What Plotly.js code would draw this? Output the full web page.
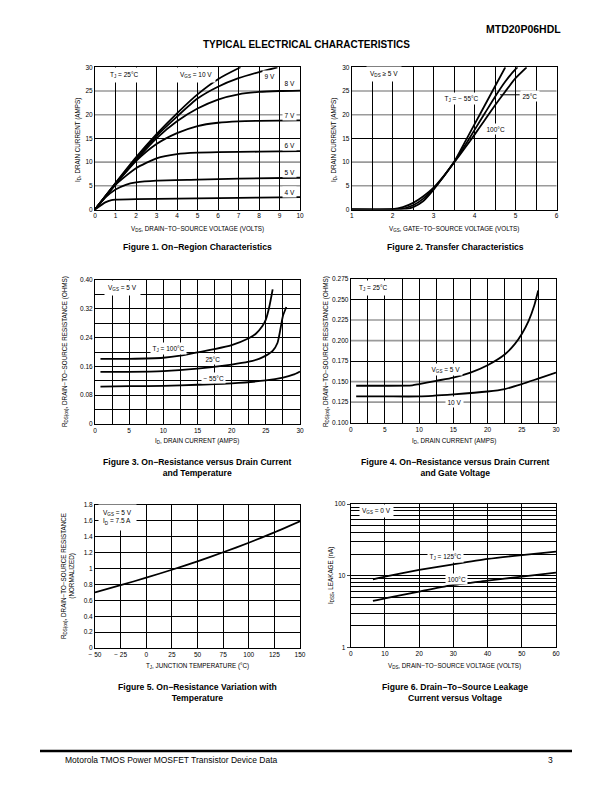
<!DOCTYPE html>
<html><head><meta charset="utf-8">
<script src="https://cdn.plot.ly/plotly-3.0.1.min.js"></script>
<style>html,body{margin:0;padding:0;background:#fff}#g{width:612px;height:792px}</style>
</head><body><div id="g"></div>
<script>
// ---------- Figure 1: On-Region Characteristics (VDS vs ID) ----------
const f1_vgs10_x = [0,1,2,3,4,5,6,7,7.1];
const f1_vgs10_y = [0,5.6,11.0,15.9,20.3,24.3,27.5,29.8,30];
const f1_vgs9_x = [0,1,2,3,4,5,6,7,8,8.9];
const f1_vgs9_y = [0,5.5,10.7,15.5,19.6,23.4,25.9,27.7,29.0,30];
const f1_vgs8_x = [0,1,2,3,4,5,6,7,8,9,10];
const f1_vgs8_y = [0,5.4,10.4,15.0,18.6,21.3,23.2,24.3,24.8,25.0,25.1];
const f1_vgs7_x = [0,1,2,3,4,5,6,7,8,10];
const f1_vgs7_y = [0,5.3,10.2,13.8,16.1,17.6,18.3,18.6,18.7,18.8];
const f1_vgs6_x = [0,1,2,3,4,5,6,8,10];
const f1_vgs6_y = [0,5.2,8.7,10.8,11.7,12.0,12.1,12.2,12.3];
const f1_vgs5_x = [0,0.5,1,1.5,2,3,5,7,10];
const f1_vgs5_y = [0,2.5,4.2,5.2,5.7,6.1,6.3,6.5,6.7];
const f1_vgs4_x = [0,0.5,0.8,1,2,4,6,8,10];
const f1_vgs4_y = [0,1.5,2.0,2.1,2.2,2.3,2.4,2.5,2.6];

// ---------- Figure 2: Transfer Characteristics (VGS vs ID) ----------
const f2_m55_x = [1,2,2.3,2.5,2.75,3,3.25,3.5,3.75,4,4.25,4.5,4.75];
const f2_m55_y = [0,0,0.05,0.5,1.8,4.2,7.0,10.0,14.0,18.0,22.0,26.0,30.0];
const f2_25_x = [1,2,2.2,2.5,2.75,3,3.25,3.5,3.75,4,4.25,4.5,4.75,5,5.05];
const f2_25_y = [0,0,0.1,0.9,2.3,4.4,7.0,10.0,13.3,16.8,20.3,23.8,27.0,29.6,30];
const f2_100_x = [1,2,2.25,2.5,2.75,3,3.25,3.5,3.75,4,4.25,4.5,4.75,5,5.27];
const f2_100_y = [0,0.05,0.5,1.4,2.8,4.6,7.1,9.9,12.8,15.8,18.9,22.0,24.9,27.7,30];

// ---------- Figure 3: RDS(on) vs ID and Temperature ----------
const f3_100_x = [0.8,5,10,12.5,15,17.5,20,22.5,23.5,24.5,25,25.5,26];
const f3_100_y = [0.181,0.181,0.184,0.190,0.199,0.208,0.219,0.238,0.250,0.272,0.290,0.325,0.374];
const f3_25_x = [0.8,5,10,15,20,22.5,24,25,26,26.7,27.1,27.5,28];
const f3_25_y = [0.145,0.145,0.147,0.154,0.165,0.173,0.181,0.190,0.203,0.225,0.260,0.300,0.325];
const f3_m55_x = [0.8,5,10,15,20,25,27.5,29,30];
const f3_m55_y = [0.104,0.105,0.106,0.109,0.113,0.121,0.129,0.137,0.146];

// ---------- Figure 4: RDS(on) vs ID and Gate Voltage ----------
const f4_5v_x = [0.8,5,9,10,12.5,15,17.5,20,22.5,24,25,26,26.8,27.4];
const f4_5v_y = [0.145,0.145,0.1455,0.147,0.151,0.155,0.161,0.170,0.183,0.196,0.208,0.224,0.242,0.261];
const f4_10v_x = [0.8,5,10,15,20,22.5,25,27.5,30];
const f4_10v_y = [0.132,0.132,0.132,0.1345,0.138,0.141,0.147,0.154,0.161];

// ---------- Figure 5: RDS(on) normalized vs TJ ----------
const f5_tj = [-50,-25,0,25,50,75,100,125,150];
const f5_r = [0.70,0.79,0.885,0.985,1.09,1.205,1.325,1.455,1.595];

// ---------- Figure 6: IDSS leakage vs VDS ----------
const f6_125_x = [6.5,10,20,30,40,50,60];
const f6_125_y = [8.9,9.7,12.0,14.4,17.1,19.4,21.6];
const f6_100_x = [6.5,10,20,30,40,50,60];
const f6_100_y = [4.43,4.83,5.98,7.41,8.5,9.7,11.0];

// tick labels / grid positions
const f3_tickvals = [0,0.08,0.16,0.24,0.32,0.40];
const f3_ticktext = ["0","0.08","0.16","0.24","0.32","0.40"];
const f5_xtickvals = [-50,-25,0,25,50,75,100,125,150];
const f5_xticktext = ["\u2212 50","\u2212 25","0","25","50","75","100","125","150"];
const f5_ytickvals = [0,0.2,0.4,0.6,0.8,1,1.2,1.4,1.6,1.8];
const f5_yticktext = ["0","0.2","0.4","0.6","0.8","1","1.2","1.4","1.6","1.8"];
const f6_minor = [2,3,4,5,6,7,8,9,20,30,40,50,60,70,80,90];
const f12_darkgrid = [15];
const f12_lightgrid = [5, 10, 20, 25];
const f4_darkgrid = [0.175, 0.25];
const f4_lightgrid = [0.125, 0.15, 0.2, 0.225];

// ---------- helpers ----------
const W = 612, H = 792;
const PX = v => v / W;
const PY = v => 1 - v / H;
const FONT = '"Liberation Sans", Arial, Helvetica, sans-serif';
const LW = 1.8;

function line(x, y, xa, ya) {
  return {x: x, y: y, xaxis: xa, yaxis: ya, type: 'scatter', mode: 'lines',
          line: {color: '#000', width: LW, shape: 'spline', smoothing: 0.6},
          hoverinfo: 'skip', showlegend: false};
}

const data = [
  line(f1_vgs10_x, f1_vgs10_y, 'x', 'y'),
  line(f1_vgs9_x, f1_vgs9_y, 'x', 'y'),
  line(f1_vgs8_x, f1_vgs8_y, 'x', 'y'),
  line(f1_vgs7_x, f1_vgs7_y, 'x', 'y'),
  line(f1_vgs6_x, f1_vgs6_y, 'x', 'y'),
  line(f1_vgs5_x, f1_vgs5_y, 'x', 'y'),
  line(f1_vgs4_x, f1_vgs4_y, 'x', 'y'),
  line(f2_m55_x, f2_m55_y, 'x2', 'y2'),
  line(f2_25_x, f2_25_y, 'x2', 'y2'),
  line(f2_100_x, f2_100_y, 'x2', 'y2'),
  line(f3_100_x, f3_100_y, 'x3', 'y3'),
  line(f3_25_x, f3_25_y, 'x3', 'y3'),
  line(f3_m55_x, f3_m55_y, 'x3', 'y3'),
  line(f4_5v_x, f4_5v_y, 'x4', 'y4'),
  line(f4_10v_x, f4_10v_y, 'x4', 'y4'),
  line(f5_tj, f5_r, 'x5', 'y5'),
  line(f6_125_x, f6_125_y, 'x6', 'y6'),
  line(f6_100_x, f6_100_y, 'x6', 'y6')
];

const GRID = {showgrid: true, gridcolor: '#000', gridwidth: 1};
function ax(extra) {
  return Object.assign({
    showline: true, mirror: true, linecolor: '#000', linewidth: 1,
    showgrid: true, gridcolor: '#000', gridwidth: 1, zeroline: false,
    ticks: '', tickfont: {family: FONT, size: 6.5, color: '#000'},
    fixedrange: true
  }, extra);
}

const layout = {
  width: W, height: H, margin: {l: 0, r: 0, t: 0, b: 0},
  paper_bgcolor: '#fff', plot_bgcolor: 'rgba(0,0,0,0)', showlegend: false,
  font: {family: FONT, color: '#000', size: 6.5},
  // Fig 1
  xaxis: ax({domain: [PX(95), PX(300)], anchor: 'y', range: [0, 10], dtick: 1, tick0: 0}),
  yaxis: ax({domain: [PY(209.5), PY(67.3)], anchor: 'x', range: [0, 30], dtick: 5, tick0: 0,
             showgrid: false, minor: Object.assign({tickvals: f12_darkgrid, ticks: ''}, GRID)}),
  // Fig 2
  xaxis2: ax({domain: [PX(351.7), PX(556.5)], anchor: 'y2', range: [1, 6], dtick: 1, tick0: 1,
              minor: Object.assign({dtick: 0.5}, GRID)}),
  yaxis2: ax({domain: [PY(209.5), PY(67.3)], anchor: 'x2', range: [0, 30], dtick: 5, tick0: 0,
              showgrid: false, minor: Object.assign({tickvals: f12_darkgrid, ticks: ''}, GRID)}),
  // Fig 3
  xaxis3: ax({domain: [PX(95), PX(300)], anchor: 'y3', range: [0, 30], dtick: 5, tick0: 0,
              minor: Object.assign({dtick: 2.5}, GRID)}),
  yaxis3: ax({domain: [PY(424), PY(280)], anchor: 'x3', range: [0, 0.40],
              tickvals: f3_tickvals, ticktext: f3_ticktext,
              minor: Object.assign({dtick: 0.04, tick0: 0}, GRID)}),
  // Fig 4
  xaxis4: ax({domain: [PX(350.7), PX(556)], anchor: 'y4', range: [0, 30], dtick: 5, tick0: 0,
              minor: Object.assign({dtick: 2.5}, GRID)}),
  yaxis4: ax({domain: [PY(422.7), PY(279)], anchor: 'x4', range: [0.1, 0.275], dtick: 0.025, tick0: 0.1,
              tickformat: '.3f', showgrid: false,
              minor: Object.assign({tickvals: f4_darkgrid, ticks: ''}, GRID)}),
  // Fig 5
  xaxis5: ax({domain: [PX(95), PX(300)], anchor: 'y5', range: [-50, 150],
              tickvals: f5_xtickvals, ticktext: f5_xticktext}),
  yaxis5: ax({domain: [PY(648), PY(505)], anchor: 'x5', range: [0, 1.8],
              tickvals: f5_ytickvals, ticktext: f5_yticktext}),
  // Fig 6
  xaxis6: ax({domain: [PX(350.7), PX(556)], anchor: 'y6', range: [0, 60], dtick: 10, tick0: 0}),
  yaxis6: ax({domain: [PY(647.3), PY(504)], anchor: 'x6', type: 'log', range: [0, 2],
              tickvals: [1, 10, 100], ticktext: ['1', '10', '100'], ticks: 'outside', ticklen: 3,
              minor: Object.assign({tickvals: f6_minor, ticks: ''}, GRID)}),
  shapes: [],
  annotations: []
};

// lighter horizontal grid lines as seen in the reference (figs 1, 2, 4)
const GL = {color: '#9a9a9a', width: 1.6};
f12_lightgrid.forEach(v => {
  layout.shapes.push({type: 'line', xref: 'x domain', yref: 'y', x0: 0, x1: 1, y0: v, y1: v, layer: 'below', line: GL});
  layout.shapes.push({type: 'line', xref: 'x2 domain', yref: 'y2', x0: 0, x1: 1, y0: v, y1: v, layer: 'below', line: GL});
});
f4_lightgrid.forEach(v => layout.shapes.push({type: 'line', xref: 'x4 domain', yref: 'y4',
  x0: 0, x1: 1, y0: v, y1: v, layer: 'below', line: GL}));
// leader line for 25°C in fig 2
layout.shapes.push({type: 'line', xref: 'x2', yref: 'y2', x0: 4.62, x1: 5.1, y0: 24.2, y1: 24.2,
  line: {color: '#000', width: 1}});
// footer rule
layout.shapes.push({type: 'line', xref: 'paper', yref: 'paper', x0: PX(40), x1: PX(572),
  y0: PY(751), y1: PY(751), line: {color: '#000', width: 2.5}});

const A = layout.annotations;
function lab(xr, yr, x, y, text, opt) {
  A.push(Object.assign({xref: xr, yref: yr, x: x, y: y, text: text, showarrow: false,
    bgcolor: '#fff', borderpad: 1.5, font: {family: FONT, size: 6.5, color: '#000'},
    xanchor: 'center', yanchor: 'middle'}, opt || {}));
}
function ptxt(x, y, text, size, opt) {
  A.push(Object.assign({xref: 'paper', yref: 'paper', x: PX(x), y: PY(y), text: text, showarrow: false,
    font: {family: FONT, size: size, color: '#000'}, xanchor: 'center', yanchor: 'middle'}, opt || {}));
}

// Fig 1 labels
lab('x', 'y', 1.45, 28.4, 'T<sub>J</sub> = 25°C', {borderpad: 3});
lab('x', 'y', 4.95, 28.4, 'V<sub>GS</sub> = 10 V', {borderpad: 3});
lab('x', 'y', 8.5, 28.2, '9 V');
lab('x', 'y', 9.5, 26.6, '8 V');
lab('x', 'y', 9.5, 19.9, '7 V');
lab('x', 'y', 9.5, 13.6, '6 V');
lab('x', 'y', 9.5, 8.0, '5 V');
lab('x', 'y', 9.5, 3.7, '4 V');
// Fig 2 labels
lab('x2', 'y2', 1.8, 28.5, 'V<sub>DS</sub> ≥ 5 V', {borderpad: 3});
lab('x2', 'y2', 3.67, 23.5, 'T<sub>J</sub> = − 55°C');
lab('x2', 'y2', 5.35, 24.0, '25°C');
lab('x2', 'y2', 4.52, 17.0, '100°C');
// Fig 3 labels
lab('x3', 'y3', 4.0, 0.377, 'V<sub>GS</sub> = 5 V', {borderpad: 3});
lab('x3', 'y3', 10.7, 0.210, 'T<sub>J</sub> = 100°C');
lab('x3', 'y3', 17.3, 0.180, '25°C');
lab('x3', 'y3', 17.3, 0.129, '− 55°C');
// Fig 4 labels
lab('x4', 'y4', 3.4, 0.2645, 'T<sub>J</sub> = 25°C', {borderpad: 3});
lab('x4', 'y4', 13.9, 0.165, 'V<sub>GS</sub> = 5 V');
lab('x4', 'y4', 15.2, 0.1256, '10 V');
// Fig 5 labels
lab('x5', 'y5', -28, 1.64, 'V<sub>GS</sub> = 5 V<br>I<sub>D</sub> = 7.5 A', {align: 'left', borderpad: 4});
// Fig 6 labels (y on log axis given in log10 units)
lab('x6', 'y6', 7.6, Math.log10(80), 'V<sub>GS</sub> = 0 V', {borderpad: 2});
lab('x6', 'y6', 27.6, Math.log10(18.4), 'T<sub>J</sub> = 125°C');
lab('x6', 'y6', 30.9, Math.log10(9.0), '100°C');

// axis titles
const TS = 6.3;
ptxt(197, 229, 'V<sub>DS</sub>, DRAIN−TO−SOURCE VOLTAGE (VOLTS)', TS);
ptxt(454, 229, 'V<sub>GS</sub>, GATE−TO−SOURCE VOLTAGE (VOLTS)', TS);
ptxt(197, 441, 'I<sub>D</sub>, DRAIN CURRENT (AMPS)', TS);
ptxt(454, 441, 'I<sub>D</sub>, DRAIN CURRENT (AMPS)', TS);
ptxt(197, 666, 'T<sub>J</sub>, JUNCTION TEMPERATURE (°C)', TS);
ptxt(454, 666, 'V<sub>DS</sub>, DRAIN−TO−SOURCE VOLTAGE (VOLTS)', TS);
ptxt(78, 140, 'I<sub>D</sub>, DRAIN CURRENT (AMPS)', TS, {textangle: -90});
ptxt(334, 140, 'I<sub>D</sub>, DRAIN CURRENT (AMPS)', TS, {textangle: -90});
ptxt(65, 352, 'R<sub>DS(on)</sub>, DRAIN−TO−SOURCE RESISTANCE (OHMS)', TS, {textangle: -90});
ptxt(326, 352, 'R<sub>DS(on)</sub>, DRAIN−TO−SOURCE RESISTANCE (OHMS)', TS, {textangle: -90});
ptxt(68, 576, 'R<sub>DS(on)</sub>, DRAIN−TO−SOURCE RESISTANCE<br>(NORMALIZED)', TS, {textangle: -90});
ptxt(331, 576, 'I<sub>DSS</sub>, LEAKAGE (nA)', TS, {textangle: -90});

// captions
const CB = 8.6;
ptxt(197, 247, '<b>Figure 1. On−Region Characteristics</b>', CB);
ptxt(455, 247, '<b>Figure 2. Transfer Characteristics</b>', CB);
ptxt(197, 467.5, '<b>Figure 3. On−Resistance versus Drain Current<br>and Temperature</b>', CB);
ptxt(455, 467.5, '<b>Figure 4. On−Resistance versus Drain Current<br>and Gate Voltage</b>', CB);
ptxt(197, 692.5, '<b>Figure 5. On−Resistance Variation with<br>Temperature</b>', CB);
ptxt(455, 692.5, '<b>Figure 6. Drain−To−Source Leakage<br>Current versus Voltage</b>', CB);

// header / footer
ptxt(563, 29, '<b>MTD20P06HDL</b>', 10.5, {xanchor: 'right'});
ptxt(306, 44, '<b>TYPICAL ELECTRICAL CHARACTERISTICS</b>', 10);
ptxt(63, 760, 'Motorola TMOS Power MOSFET Transistor Device Data', 8.5, {xanchor: 'left'});
ptxt(555, 760, '3', 8.5, {xanchor: 'right'});

Plotly.newPlot('g', data, layout, {displayModeBar: false});
</script>
</body></html>
